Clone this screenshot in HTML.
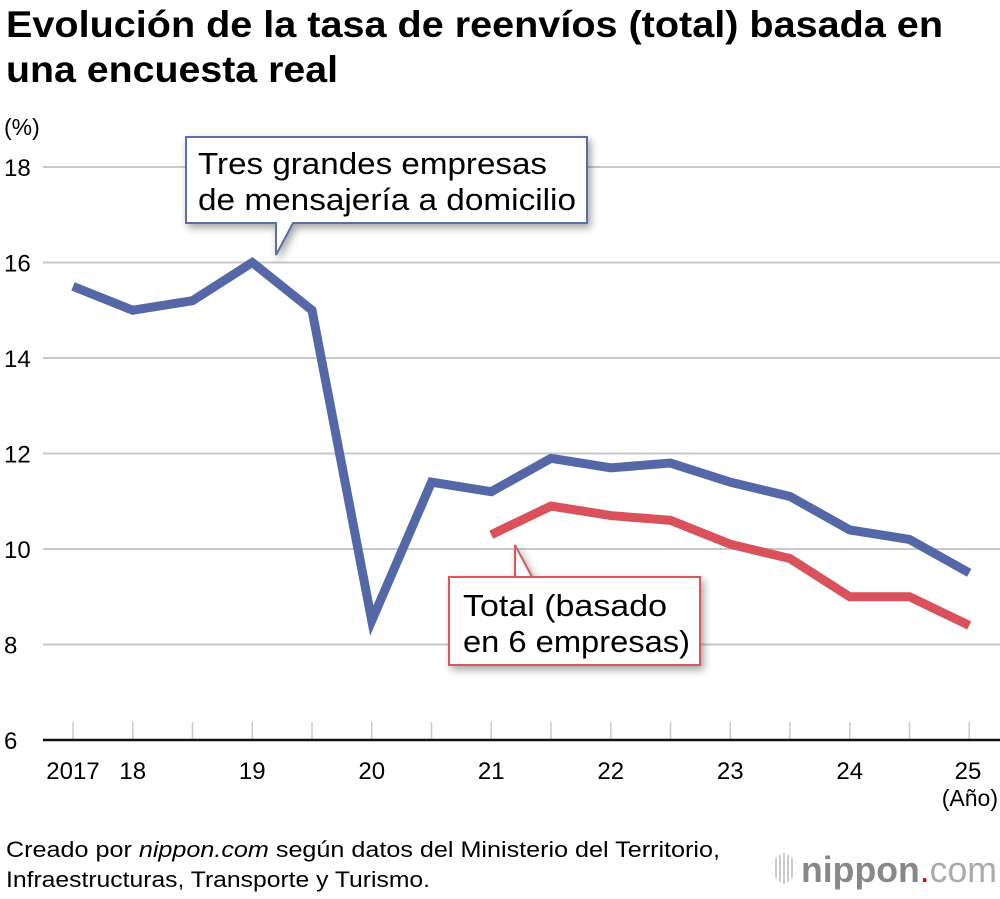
<!DOCTYPE html>
<html><head><meta charset="utf-8"><style>
body{margin:0;width:1000px;height:894px;background:#fff;font-family:"Liberation Sans",sans-serif;overflow:hidden}
svg text{font-family:"Liberation Sans",sans-serif}
</style></head><body>
<svg width="1000" height="894">
<text x="6" y="37" font-size="37" font-weight="bold" textLength="937" lengthAdjust="spacingAndGlyphs">Evolución de la tasa de reenvíos (total) basada en</text>
<text x="6" y="82" font-size="37" font-weight="bold" textLength="332" lengthAdjust="spacingAndGlyphs">una encuesta real</text>
<text x="4" y="135" font-size="23">(%)</text>
<g id="grid"></g>
<g id="xaxis"></g>
<g id="lines"></g>
<g>
<path d="M186,137 H587 V223 H293 L276,255 L276,223 H186 Z" fill="#fff" stroke="#5a6fa8" stroke-width="2" style="filter:drop-shadow(3px 4px 4px rgba(0,0,0,0.35))"/>
<text x="198" y="174" font-size="31" textLength="349" lengthAdjust="spacingAndGlyphs">Tres grandes empresas</text>
<text x="198" y="210" font-size="31" textLength="378" lengthAdjust="spacingAndGlyphs">de mensajería a domicilio</text>
</g>
<g>
<path d="M449,577 H700 V665 H449 V577 H515 L515,545 L532,577" fill="#fff" stroke="#d9585a" stroke-width="2" style="filter:drop-shadow(3px 4px 4px rgba(0,0,0,0.35))"/>
<text x="463" y="616" font-size="31" textLength="204" lengthAdjust="spacingAndGlyphs">Total (basado</text>
<text x="463" y="652" font-size="31" textLength="227" lengthAdjust="spacingAndGlyphs">en 6 empresas)</text>
</g>
<text x="968" y="779" font-size="24" text-anchor="middle">25</text>
<text x="998" y="806" font-size="23" text-anchor="end">(Año)</text>
<text x="6" y="857" font-size="22" textLength="714" lengthAdjust="spacingAndGlyphs">Creado por <tspan font-style="italic">nippon.com</tspan> según datos del Ministerio del Territorio,</text>
<text x="6" y="887" font-size="22" textLength="424" lengthAdjust="spacingAndGlyphs">Infraestructuras, Transporte y Turismo.</text>
<g>
<g stroke="#bbb" stroke-width="1.5"><line x1="776" y1="858" x2="776" y2="878"/><line x1="780" y1="855" x2="780" y2="882"/><line x1="784" y1="853" x2="784" y2="884"/><line x1="788" y1="855" x2="788" y2="882"/><line x1="792" y1="858" x2="792" y2="878"/></g>
<text x="997" y="882" font-size="36" text-anchor="end" textLength="196" lengthAdjust="spacingAndGlyphs"><tspan font-weight="bold" fill="#888">nippon</tspan><tspan fill="#d00">.</tspan><tspan fill="#aaa">com</tspan></text>
</g>
</svg>
<script>
const yTicks=[6,8,10,12,14,16,18];
const xLabels=["2017","18","","19","","20","","21","","22","","23","","24","",""];
const blue=[15.5,15.0,15.2,16.0,15.0,8.5,11.4,11.2,11.9,11.7,11.8,11.4,11.1,10.4,10.2,9.5];
const red=[null,null,null,null,null,null,null,10.3,10.9,10.7,10.6,10.1,9.8,9.0,9.0,8.4];
const NS="http://www.w3.org/2000/svg";
const y=v=>740-(v-6)*47.75;
const x=i=>73+i*59.75;
function mk(t,a,p){const e=document.createElementNS(NS,t);for(const k in a)e.setAttribute(k,a[k]);p.appendChild(e);return e;}
const g=document.getElementById('grid');
yTicks.forEach(v=>{
 if(v>6){const l=mk('line',{x1:43,x2:1000,y1:y(v),y2:y(v),stroke:'#c8c8c8','stroke-width':2},g);
 
 }
 const t=mk('text',{x:4,y:y(v)+9,'font-size':24},g);t.textContent=v;
 
 
});
const xa=document.getElementById('xaxis');
blue.forEach((_,i)=>{const l=mk('line',{x1:x(i),x2:x(i),y1:722,y2:740,stroke:'#ccc','stroke-width':1.5},xa);
 
 
 if(xLabels[i]){const t=mk('text',{x:x(i),y:779,'font-size':24,'text-anchor':'middle'},xa);t.textContent=xLabels[i];
 
 }
});
const ax=mk('line',{x1:43,x2:1000,y1:740,y2:740,stroke:'#111','stroke-width':2.5},xa);


const lg=document.getElementById('lines');
function line(d,c,n){const pts=d.map((v,i)=>v==null?null:x(i)+','+y(v)).filter(p=>p);
 const p=mk('polyline',{points:pts.join(' '),fill:'none',stroke:c,'stroke-width':9,'stroke-linejoin':'miter','stroke-linecap':'butt'},lg);
 
 }
line(blue,'#5468a8','line-three-companies');
line(red,'#d9515a','line-total-six-companies');
</script>
</body></html>
